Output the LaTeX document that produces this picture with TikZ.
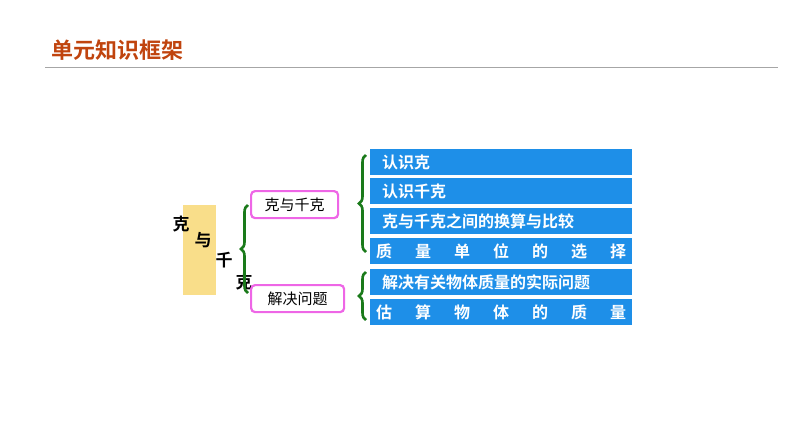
\documentclass[tikz,border=0pt]{standalone}
\usepackage{fontspec}
\newfontfamily\cjk{Noto Sans CJK SC}[BoldFont={Noto Sans CJK SC Bold}]
\usetikzlibrary{decorations.pathreplacing}
\definecolor{tit}{HTML}{C0440E}
\definecolor{bl}{HTML}{1E8FE8}
\definecolor{gr}{HTML}{1A7A1A}
\definecolor{yl}{HTML}{F9DE8A}
\definecolor{pk}{HTML}{EE66E6}
\begin{document}
\begin{tikzpicture}[x=1pt,y=-1pt,
  row/.style={fill=bl,minimum width=262pt,minimum height=26pt,anchor=north west,inner sep=0pt,font=\cjk\bfseries\fontsize{16}{16}\selectfont,text=white},
  pbox/.style={draw=pk,line width=2.2pt,rounded corners=4pt,inner sep=0pt,minimum height=27pt,font=\cjk\fontsize{15}{15}\selectfont,anchor=north west},
  br/.style={draw=gr,line width=2.6pt,decorate,decoration={brace,amplitude=7pt}},
  bc/.style={font=\cjk\bfseries\fontsize{17}{17}\selectfont}]
\useasboundingbox (0,0) rectangle (794,447);
\node[anchor=west,text=tit,font=\cjk\bfseries\fontsize{22}{22}\selectfont] (title) at (48,50) {单元知识框架};
\draw[gray!70,line width=1pt] (45,67) -- (778,67);
\node[fill=yl,minimum width=33pt,minimum height=90pt,inner sep=0pt,anchor=north west] (y) at (183,205) {};
\node[bc] (c1) at (181,224) {克};
\node[bc] (c2) at (203,240) {与};
\node[bc] (c3) at (224,260) {千};
\node[bc] (c4) at (244,282) {克};
\node[pbox,minimum width=87pt] (k) at (250,190) {克与千克};
\node[pbox,minimum width=93pt] (j) at (250,284) {解决问题};
\draw[br] (248,293) -- (248,205);
\draw[br] (366,252) -- (366,155);
\draw[br] (366,320) -- (366,272);
\node[row,text width=250pt,align=left] (r1) at (370,149) {\hspace*{6pt}认识克};
\node[row,text width=250pt,align=left] (r2) at (370,178) {\hspace*{6pt}认识千克};
\node[row,text width=250pt,align=left] (r3) at (370,208) {\hspace*{6pt}克与千克之间的换算与比较};
\node[row] (r4) at (370,238) {\makebox[250pt][s]{质\hfill 量\hfill 单\hfill 位\hfill 的\hfill 选\hfill 择}};
\node[row,text width=250pt,align=left] (r5) at (370,269) {\hspace*{6pt}解决有关物体质量的实际问题};
\node[row] (r6) at (370,299) {\makebox[250pt][s]{估\hfill 算\hfill 物\hfill 体\hfill 的\hfill 质\hfill 量}};
\end{tikzpicture}
\end{document}
